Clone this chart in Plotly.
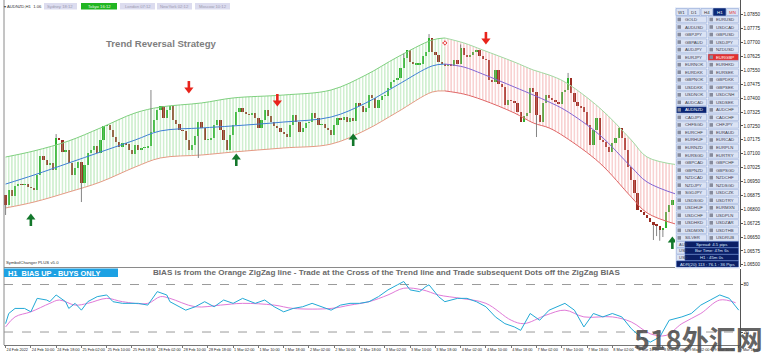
import plotly.graph_objects as go

# ---------------- DATA ----------------
first_open = 1.06877
close = [1.06823, 1.06904, 1.06872, 1.06926, 1.06936, 1.06931, 1.06936, 1.06920, 1.06915, 1.06904,
         1.06985, 1.07088, 1.07066, 1.07039, 1.07050, 1.07012, 1.07185, 1.07174, 1.07109, 1.07120,
         1.07050, 1.06985, 1.07023, 1.07055, 1.06942, 1.07039, 1.07104, 1.07120, 1.07142, 1.07104,
         1.07174, 1.07250, 1.07255, 1.07228, 1.07190, 1.07163, 1.07136, 1.07158, 1.07152, 1.07120,
         1.07098, 1.07147, 1.07120, 1.07131, 1.07131, 1.07142, 1.07217, 1.07282, 1.07336, 1.07358,
         1.07293, 1.07336, 1.07358, 1.07282, 1.07260, 1.07228, 1.07223, 1.07174, 1.07120, 1.07147,
         1.07196, 1.07271, 1.07239, 1.07174, 1.07174, 1.07185, 1.07255, 1.07282, 1.07228, 1.07174,
         1.07120, 1.07201, 1.07255, 1.07325, 1.07347, 1.07325, 1.07314, 1.07309, 1.07320, 1.07293,
         1.07239, 1.07282, 1.07336, 1.07304, 1.07271, 1.07250, 1.07239, 1.07217, 1.07206, 1.07190,
         1.07255, 1.07309, 1.07271, 1.07217, 1.07239, 1.07266, 1.07271, 1.07320, 1.07293, 1.07255,
         1.07260, 1.07239, 1.07228, 1.07201, 1.07255, 1.07293, 1.07282, 1.07298, 1.07271, 1.07293,
         1.07277, 1.07374, 1.07358, 1.07325, 1.07347, 1.07417, 1.07401, 1.07347, 1.07390, 1.07412,
         1.07412, 1.07455, 1.07487, 1.07498, 1.07509, 1.07563, 1.07617, 1.07660, 1.07595, 1.07584,
         1.07584, 1.07584, 1.07628, 1.07649, 1.07725, 1.07649, 1.07633, 1.07595, 1.07584, 1.07574,
         1.07584, 1.07574, 1.07606, 1.07584, 1.07671, 1.07633, 1.07622, 1.07633, 1.07649, 1.07660,
         1.07628, 1.07611, 1.07606, 1.07498, 1.07487, 1.07552, 1.07476, 1.07460, 1.07363, 1.07390,
         1.07385, 1.07374, 1.07325, 1.07271, 1.07304, 1.07320, 1.07455, 1.07433, 1.07309, 1.07271,
         1.07374, 1.07417, 1.07401, 1.07390, 1.07379, 1.07368, 1.07433, 1.07444, 1.07509, 1.07428,
         1.07379, 1.07358, 1.07352, 1.07325, 1.07255, 1.07147, 1.07228, 1.07293, 1.07174, 1.07163,
         1.07136, 1.07109, 1.07158, 1.07185, 1.07239, 1.07185, 1.07120, 1.07028, 1.06958, 1.06888,
         1.06796, 1.06785, 1.06769, 1.06753, 1.06731, 1.06715, 1.06710, 1.06688, 1.06699, 1.06785,
         1.06823, 1.06850]
wick_high = {16: 1.07206, 46: 1.07444, 126: 1.07640, 134: 1.07746, 144: 1.07690, 178: 1.07536}
wick_low = {0: 1.06769, 24: 1.06839, 61: 1.07077, 168: 1.07190, 205: 1.06634, 206: 1.06655,
            207: 1.06630, 208: 1.06650}

band_bars = [0, 9, 20, 30, 41, 49, 62, 72, 88, 103, 114, 124, 135, 139, 145, 151, 161, 167, 172,
             177, 188, 198, 203, 213]
band_upper = [1.07082, 1.07115, 1.07169, 1.07239, 1.07320, 1.07352, 1.07374, 1.07401, 1.07417,
              1.07444, 1.07525, 1.07622, 1.07714, 1.07725, 1.07698, 1.07660, 1.07595, 1.07552,
              1.07525, 1.07487, 1.07347, 1.07174, 1.07082, 1.07039]
band_mid = [1.06936, 1.06985, 1.07050, 1.07109, 1.07174, 1.07223, 1.07239, 1.07250, 1.07271,
            1.07298, 1.07374, 1.07471, 1.07574, 1.07584, 1.07568, 1.07530, 1.07460, 1.07417,
            1.07379, 1.07336, 1.07201, 1.07028, 1.06947, 1.06877]
band_lower = [1.06807, 1.06839, 1.06893, 1.06947, 1.07028, 1.07077, 1.07093, 1.07109, 1.07131,
              1.07152, 1.07228, 1.07325, 1.07433, 1.07439, 1.07422, 1.07390, 1.07320, 1.07266,
              1.07239, 1.07190, 1.07050, 1.06866, 1.06780, 1.06715]
trend_flip_bar = 139

buy_bars = [8, 73, 110, 211]
buy_prices = [1.06742, 1.07066, 1.07174, 1.06618]
sell_bars = [58, 86, 152]
sell_prices = [1.07460, 1.07390, 1.07725]
dot_bars = [139]
dot_prices = [1.07698]

osc_fast_bars = [0, 1, 3, 6, 8, 10, 13, 14, 16, 19, 20, 22, 24, 26, 29, 32, 34, 37, 42, 45, 48, 51,
                 52, 55, 57, 60, 63, 66, 69, 72, 75, 79, 82, 85, 88, 91, 94, 97, 100, 103, 106, 109,
                 112, 115, 118, 121, 124, 126, 128, 131, 133, 134, 137, 139, 143, 146, 149, 152,
                 155, 158, 161, 163, 166, 169, 172, 177, 180, 183, 186, 189, 192, 195, 198, 201,
                 204, 207, 210, 214, 217, 220, 223, 226, 229, 232]
osc_fast = [30.6, 43.4, 49.8, 49.8, 45.5, 62.5, 60.4, 58.3, 66.8, 58.3, 49.8, 56.2, 47.6, 58.3,
            64.7, 66.8, 58.3, 56.2, 56.2, 54.0, 71.0, 66.8, 58.3, 51.9, 47.6, 51.9, 58.3, 51.9,
            60.4, 56.2, 62.5, 56.2, 60.4, 51.9, 45.5, 49.8, 51.9, 56.2, 51.9, 47.6, 54.0, 56.2,
            56.2, 58.3, 64.7, 73.2, 79.6, 83.8, 73.2, 71.0, 77.4, 79.6, 64.7, 58.3, 62.5, 62.5,
            58.3, 51.9, 39.1, 30.6, 26.4, 22.1, 43.4, 34.9, 47.6, 56.2, 47.6, 26.4, 43.4, 39.1,
            43.4, 39.1, 24.2, 13.6, 7.2, 13.6, 34.9, 39.1, 43.4, 54.0, 60.4, 66.8, 62.5, 47.6]
osc_slow_bars = [0, 3, 8, 14, 17, 22, 26, 32, 37, 45, 49, 52, 60, 68, 75, 85, 91, 103, 109, 115,
                 121, 126, 132, 137, 144, 152, 160, 164, 171, 177, 183, 192, 198, 204, 209, 214,
                 220, 226, 231]
osc_slow = [26.4, 39.1, 45.5, 56.2, 60.4, 54.0, 56.2, 62.5, 58.3, 56.2, 64.7, 62.5, 51.9, 54.0,
            56.2, 54.0, 49.8, 49.8, 54.0, 58.3, 66.8, 75.3, 73.2, 66.8, 62.5, 56.2, 34.9, 30.6,
            41.3, 47.6, 39.1, 39.1, 32.7, 17.8, 15.7, 30.6, 43.4, 60.4, 57.0]
osc_levels = [20, 80]

price_ticks = [1.06500, 1.06575, 1.06650, 1.06725, 1.06800, 1.06875, 1.06950, 1.07025, 1.07100,
               1.07175, 1.07250, 1.07325, 1.07400, 1.07475, 1.07550, 1.07625, 1.07700, 1.07775,
               1.07850]
time_labels = ["24 Feb 2022", "24 Feb 10:00", "24 Feb 18:00", "25 Feb 02:00", "25 Feb 10:00",
               "25 Feb 18:00", "28 Feb 02:00", "28 Feb 10:00", "28 Feb 18:00", "1 Mar 02:00",
               "1 Mar 10:00", "1 Mar 18:00", "2 Mar 02:00", "2 Mar 10:00", "2 Mar 18:00",
               "3 Mar 02:00", "3 Mar 10:00", "3 Mar 18:00", "4 Mar 02:00", "4 Mar 10:00",
               "4 Mar 18:00", "7 Mar 02:00", "7 Mar 10:00", "7 Mar 18:00", "8 Mar 02:00",
               "8 Mar 10:00", "8 Mar 18:00", "9 Mar 02:00", "9 Mar 10:00", "9 Mar 18:00"]
bars_per_label = 8

timeframes = ["W1", "D1", "H4", "H1", "MN"]
symbols_left = ["GOLD", "AUDUSD", "GBPJPY", "GBPAUD", "AUDJPY", "EURJPY", "EURNOK", "EURDKK",
                "GBPNOK", "USDDKK", "USDNOK", "AUDCAD", "AUDNZD", "CADJPY", "CHFSGD", "EURCHF",
                "EURHUF", "EURNZD", "EURSGD", "GBPCAD", "GBPNZD", "NZDCAD", "NZDJPY", "SGDJPY",
                "USDSGD", "USDHUF", "USDCHF", "USDHKD", "USDMXN", "SILVER"]
symbols_right = ["EURUSD", "USDCAD", "GBPUSD", "USDJPY", "NZDUSD", "EURGBP", "EURHKD", "EURSEK",
                 "GBPDKK", "GBPSEK", "USDCNH", "USDSEK", "AUDCHF", "CADCHF", "CHFJPY", "EURAUD",
                 "EURCAD", "EURPLN", "EURTRY", "GBPCHF", "GBPSGD", "NZDCHF", "NZDSGD", "USDCZK",
                 "USDTRY", "EURMXN", "USDPLN", "USDZAR", "USDTHB", "USDRUB"]
info_lines = ["Spread: 4.5 pips", "Bar Time: 47m 6s", "H1 : 45m 0s", "ADR(20) 113 : 76.1 : 36 Pips"]
sessions = ["Sydney 18:12", "Tokyo 16:12", "London 07:12", "NewYork 02:12", "Moscow 10:12"]

# ---------------- BUILD ----------------
n = len(close)
idx = list(range(n))
opens = [first_open] + close[:-1]
PX = 0.000054  # price per pixel (for small marker offsets)

fig = go.Figure()

def band_segment(sel, lo_col, up_col, pat_col, mid_col):
    xs = [band_bars[k] for k in sel]
    fig.add_trace(go.Scatter(x=xs, y=[band_lower[k] for k in sel], mode="lines",
                             line=dict(color=lo_col, width=1, shape="spline"), yaxis="y",
                             hoverinfo="skip"))
    fig.add_trace(go.Scatter(x=xs, y=[band_upper[k] for k in sel], mode="lines",
                             line=dict(color=up_col, width=1, shape="spline"), fill="tonexty",
                             fillcolor="rgba(0,0,0,0)",
                             fillpattern=dict(shape="|", fgcolor=pat_col, bgcolor="rgba(0,0,0,0)",
                                              size=3.16, solidity=0.42),
                             yaxis="y", hoverinfo="skip"))
    fig.add_trace(go.Scatter(x=xs, y=[band_mid[k] for k in sel], mode="lines",
                             line=dict(color=mid_col, width=1, shape="spline"), yaxis="y",
                             hoverinfo="skip"))

up_sel = [k for k in range(len(band_bars)) if band_bars[k] <= trend_flip_bar]
dn_sel = [k for k in range(len(band_bars)) if band_bars[k] >= trend_flip_bar]
band_segment(up_sel, "#e59a84", "#7fd07f", "#8fd98f", "#3f7fd6")
band_segment(dn_sel, "#e06666", "#a2d9a2", "#ef9494", "#8466d4")

# wicks
wx, wy = [], []
for i in idx:
    o, c = opens[i], close[i]
    hi = wick_high.get(i, max(o, c))
    lo = wick_low.get(i, min(o, c))
    if hi > max(o, c):
        wx += [i, i, None]; wy += [max(o, c), hi, None]
    if lo < min(o, c):
        wx += [i, i, None]; wy += [min(o, c), lo, None]
fig.add_trace(go.Scatter(x=wx, y=wy, mode="lines", line=dict(color="#777777", width=0.9),
                         yaxis="y", hoverinfo="skip"))

# bodies
bases = [min(opens[i], close[i]) for i in idx]
heights = [max(abs(close[i] - opens[i]), 0.00004) for i in idx]
cols = ["#2fb12f" if close[i] >= opens[i] else "#9a2c22" for i in idx]
fig.add_trace(go.Bar(x=idx, y=heights, base=bases, width=0.72, marker=dict(color=cols, line=dict(width=0)),
                     yaxis="y", hoverinfo="skip"))

# signal arrows
fig.add_trace(go.Scatter(x=buy_bars, y=[p + 2.5 * PX for p in buy_prices], mode="markers",
                         marker=dict(symbol="triangle-up", size=8, color="#13772b"), yaxis="y",
                         hoverinfo="skip"))
fig.add_trace(go.Scatter(x=buy_bars, y=[p - 2.5 * PX for p in buy_prices], mode="markers",
                         marker=dict(symbol="line-ns", size=5, line=dict(color="#13772b", width=2.6)),
                         yaxis="y", hoverinfo="skip"))
fig.add_trace(go.Scatter(x=sell_bars, y=[p - 2.5 * PX for p in sell_prices], mode="markers",
                         marker=dict(symbol="triangle-down", size=8, color="#e8231b"), yaxis="y",
                         hoverinfo="skip"))
fig.add_trace(go.Scatter(x=sell_bars, y=[p + 2.5 * PX for p in sell_prices], mode="markers",
                         marker=dict(symbol="line-ns", size=5, line=dict(color="#e8231b", width=2.6)),
                         yaxis="y", hoverinfo="skip"))
fig.add_trace(go.Scatter(x=dot_bars, y=dot_prices, mode="markers",
                         marker=dict(symbol="circle-x", size=6, color="#e84a4a",
                                     line=dict(color="white", width=1)), yaxis="y", hoverinfo="skip"))

# oscillator
fig.add_trace(go.Scatter(x=osc_slow_bars, y=osc_slow, mode="lines",
                         line=dict(color="#e07ad8", width=1, shape="spline"), yaxis="y2",
                         hoverinfo="skip"))
fig.add_trace(go.Scatter(x=osc_fast_bars, y=osc_fast, mode="lines",
                         line=dict(color="#22a9d6", width=1), yaxis="y2", hoverinfo="skip"))

# ---------------- OVERLAYS ----------------
def X(px):
    return (px - 4) / 736.0

def Y(py):
    return (345 - py) / 345.0

shapes, annos = [], []

def rect(x0, y0, x1, y1, fill, line=None, lw=0.6):
    shapes.append(dict(type="rect", xref="paper", yref="paper", x0=X(x0), x1=X(x1), y0=Y(y1), y1=Y(y0),
                       fillcolor=fill, line=dict(color=line if line else fill, width=lw if line else 0),
                       layer="above"))

def hline(x0, x1, y, color, width=1):
    shapes.append(dict(type="line", xref="paper", yref="paper", x0=X(x0), x1=X(x1), y0=Y(y), y1=Y(y),
                       line=dict(color=color, width=width), layer="above"))

def txt(x, y, s, size=4.5, color="#333", anchor="left", bold=False, family="Liberation Sans"):
    annos.append(dict(xref="paper", yref="paper", x=X(x), y=Y(y), text=f"<b>{s}</b>" if bold else s,
                      showarrow=False, xanchor=anchor, yanchor="middle", borderpad=0,
                      font=dict(size=size, color=color, family=family)))

# oscillator levels
for lv in osc_levels:
    shapes.append(dict(type="line", xref="paper", yref="y2", x0=0, x1=1, y0=lv, y1=lv,
                       line=dict(color="#9a9a9a", width=1, dash="dash"), layer="below"))
# panel separator and left frame
hline(4, 740, 267.5, "#8a8a8a", 1.2)
shapes.append(dict(type="line", xref="paper", yref="paper", x0=0, x1=0, y0=0, y1=1,
                   line=dict(color="#8a8a8a", width=1), layer="above"))

# top bar
txt(3, 6, "▾ AUDNZD,H1  1.06", 4.2, "#333")
tab_x = [(44, 77), (81, 117), (120, 155), (157, 192), (195, 230)]
for k, (a, b) in enumerate(tab_x):
    if k == 1:
        rect(a, 3, b, 9.5, "#21b521")
        txt((a + b) / 2, 6.3, sessions[k], 4.2, "#e8ffe8", "center")
    else:
        rect(a, 3, b, 9.5, "#dcdcef")
        txt((a + b) / 2, 6.3, sessions[k], 4.2, "#9a9ab0", "center")

txt(161, 43.5, "Trend Reversal Strategy", 9.6, "#7e7e7e", "center", True)
txt(5, 262, "SymbolChanger PLUS v5.0", 4.3, "#333")
rect(4, 268.5, 118, 277, "#1da1e3")
txt(6.5, 273, "H1\u00a0 BIAS UP - BUYS ONLY", 7.4, "white", "left", True)
txt(387, 272.5, "BIAS is from the Orange ZigZag line - Trade at the Cross of the Trend line and "
                "Trade subsequent Dots off the ZigZag BIAS", 8.1, "#6a6a6a", "center", True)

# symbol changer panel
rect(675, 7, 740, 269, "#edf1fa")
tf_x = [(676, 687.5), (688.5, 700), (701, 712.5), (713.5, 725.5), (726.5, 738.5)]
for k, (a, b) in enumerate(tf_x):
    if timeframes[k] == "H1":
        rect(a, 8.5, b, 15.5, "#0b2a78", "#0b2a78")
        txt((a + b) / 2, 12, timeframes[k], 4.4, "white", "center")
    else:
        rect(a, 8.5, b, 15.5, "#dbe3f4", "#8ea6d6")
        txt((a + b) / 2, 12, timeframes[k], 4.4, "#e23a3a" if timeframes[k] == "MN" else "#333",
            "center")
for k in range(len(symbols_left)):
    yc = 19.5 + 7.53 * k
    for col, (a, b, ix, tx) in enumerate([(676.5, 706.5, 677.5, 683.5), (708, 738.5, 709.5, 715)]):
        name = symbols_left[k] if col == 0 else symbols_right[k]
        sel_navy = (col == 0 and name == "AUDNZD")
        sel_red = (col == 1 and k == 5)
        fill = "#0a2472" if sel_navy else ("#e23030" if sel_red else "#dbe3f4")
        rect(a, yc - 3.2, b, yc + 3.2, fill, "#8ea6d6", 0.5)
        rect(ix, yc - 1.8, ix + 3.5, yc + 1.8, "#868b9c")
        txt(tx, yc, name, 4.3, "white" if (sel_navy or sel_red) else "#3a3a4a")
partial = ["AUS", "USD", "USD"]
for k, line in enumerate(info_lines):
    yc = 244.5 + 6.5 * k
    if k < 3:
        rect(676.5, yc - 3, 684.5, yc + 3, "#dbe3f4", "#8ea6d6", 0.5)
        txt(677.5, yc, partial[k], 4.0, "#3a3a4a")
        rect(685, yc - 3, 738.5, yc + 3, "#0b1f66", "#3b5fb0", 0.5)
        txt(711.5, yc, line, 4.3, "#dce8ff", "center")
    else:
        rect(676.5, yc - 3, 738.5, yc + 3, "#0b1f66", "#3b5fb0", 0.5)
        txt(707.5, yc, line, 4.3, "#dce8ff", "center")

# watermark
txt(698, 338, "518外汇网", 27, "rgba(72,72,72,0.85)", "center", True, "Noto Sans CJK SC")

fig.update_layout(
    width=766, height=357, margin=dict(l=4, r=26, t=0, b=12),
    paper_bgcolor="white", plot_bgcolor="white", showlegend=False,
    barmode="overlay", bargap=0, shapes=shapes, annotations=annos,
    xaxis=dict(range=[-0.5, 232.4], anchor="y2", showgrid=False, zeroline=False,
               tickvals=[k * bars_per_label for k in range(len(time_labels))], ticktext=time_labels,
               ticklabelposition="outside right", tickangle=0, ticks="outside", ticklen=2,
               tickcolor="#777", tickfont=dict(size=3.8, color="#222", family="Liberation Sans"),
               showline=True, linecolor="#777", linewidth=1),
    yaxis=dict(domain=[0.226, 1], range=[1.06488, 1.0793], side="right", anchor="x",
               tickvals=price_ticks, ticktext=[f"{v:.5f}" for v in price_ticks],
               tickfont=dict(size=4.6, color="#222", family="Liberation Sans"),
               ticks="outside", ticklen=1.5, tickcolor="#555", showline=True, linecolor="#555",
               linewidth=1, showgrid=False, zeroline=False),
    yaxis2=dict(domain=[0, 0.2203], range=[3.6, 99.6], side="right", anchor="x",
                tickvals=osc_levels, ticktext=[str(v) for v in osc_levels],
                tickfont=dict(size=4.6, color="#222", family="Liberation Sans"),
                ticks="outside", ticklen=1.5, tickcolor="#555", showline=True, linecolor="#555",
                linewidth=1, showgrid=False, zeroline=False),
)

fig.write_html("out.html", config={"displayModeBar": False},
               post_script="document.body.style.margin='0';document.body.style.overflow='hidden';")
